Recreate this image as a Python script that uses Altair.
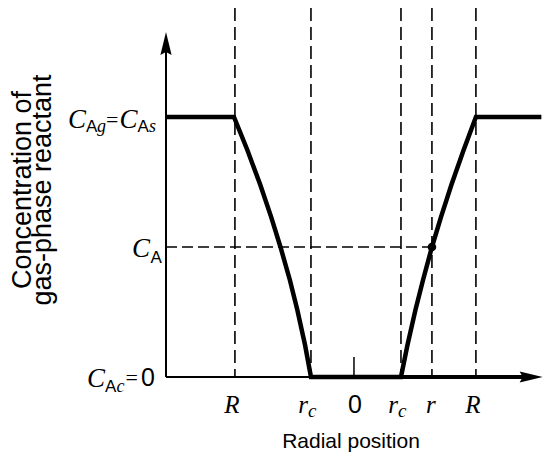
import altair as alt
import pandas as pd

# ---------------- data ----------------
x_domain = [-1.56, 1.577]          # radial position, R = 1
y_domain = [0.0, 1.419]            # concentration, C_Ag = 1

profile_x = [-1.56, -0.996, -0.885, -0.777, -0.687, -0.610, -0.532, -0.470, -0.406, -0.357,
             0.39, 0.444, 0.510, 0.573, 0.647, 0.722, 0.808, 0.910, 1.012, 1.555]
profile_y = [1.0, 1.0, 0.873, 0.738, 0.615, 0.5, 0.373, 0.258, 0.123, 0.0,
             0.0, 0.123, 0.258, 0.373, 0.5, 0.615, 0.738, 0.873, 1.0, 1.0]

guide_x = [-0.988, -0.357, 0.39, 0.647, 1.012]   # R, r_c, r_c, r, R
c_a_level = 0.5
r_pos = 0.647
zero_tick = 0.077

tick_x = [-0.988, -0.357, 0.0, 0.39, 0.647, 1.012]
tick_main = ["R", "r", "0", "r", "r", "R"]
tick_sub = ["", "c", "", "c", "", ""]

y_tick_values = [1.0, 0.5, 0.0]
y_label_parts = [["C", "A", "g", "=", "C", "A", "s"],
                 ["C", "A"],
                 ["C", "A", "c", "=", "0"]]

y_title = ["Concentration of", "gas-phase reactant"]
x_title = "Radial position"

# ---------------- helpers ----------------
xs = alt.Scale(domain=x_domain, nice=False, zero=False)
ys = alt.Scale(domain=y_domain, nice=False, zero=False)
BLACK = "#000000"
SERIF = "Liberation Serif"
SANS = "Liberation Sans"
LEFT = 166  # page x of plot's left edge


def X(f):
    return alt.X(f, type="quantitative", scale=xs, axis=None)


def Y(f):
    return alt.Y(f, type="quantitative", scale=ys, axis=None)


layers = []

# vertical dashed guides
layers.append(
    alt.Chart(pd.DataFrame({"x": guide_x, "y": [0.0] * 5, "y2": [y_domain[1]] * 5}))
    .mark_rule(color=BLACK, strokeWidth=1.6, strokeDash=[13, 6])
    .encode(x=X("x"), y=Y("y2"), y2=alt.Y2("y"))
)
# horizontal dashed guide at C_A
layers.append(
    alt.Chart(pd.DataFrame({"x": [x_domain[0]], "x2": [r_pos], "y": [c_a_level]}))
    .mark_rule(color=BLACK, strokeWidth=1.6, strokeDash=[11, 5])
    .encode(x=X("x"), x2=alt.X2("x2"), y=Y("y"))
)
# axes lines
layers.append(
    alt.Chart(pd.DataFrame({"x": [x_domain[0]], "y": [0.0], "y2": [1.25]}))
    .mark_rule(color=BLACK, strokeWidth=2)
    .encode(x=X("x"), y=Y("y"), y2=alt.Y2("y2"))
)
layers.append(
    alt.Chart(pd.DataFrame({"x": [x_domain[0]], "x2": [1.41], "y": [0.0]}))
    .mark_rule(color=BLACK, strokeWidth=2)
    .encode(x=X("x"), x2=alt.X2("x2"), y=Y("y"))
)
layers.append(
    alt.Chart(pd.DataFrame({"x": [0.39], "x2": [1.41], "y": [0.0]}))
    .mark_rule(color=BLACK, strokeWidth=4)
    .encode(x=X("x"), x2=alt.X2("x2"), y=Y("y"))
)
# tick at 0
layers.append(
    alt.Chart(pd.DataFrame({"x": [0.0], "y": [0.0], "y2": [zero_tick]}))
    .mark_rule(color=BLACK, strokeWidth=1.5)
    .encode(x=X("x"), y=Y("y"), y2=alt.Y2("y2"))
)
# arrow heads
layers.append(
    alt.Chart(pd.DataFrame({"x": [x_domain[0]], "y": [1.25]}))
    .mark_point(shape="M0,-1L0.28,0.15L0,0L-0.28,0.15Z", size=1600, filled=True,
                color=BLACK, opacity=1, strokeWidth=0)
    .encode(x=X("x"), y=Y("y"))
)
layers.append(
    alt.Chart(pd.DataFrame({"x": [1.40], "y": [0.0]}))
    .mark_point(shape="M1,0L-0.15,0.28L0,0L-0.15,-0.28Z", size=1600, filled=True,
                color=BLACK, opacity=1, strokeWidth=0)
    .encode(x=X("x"), y=Y("y"))
)
# concentration profile
layers.append(
    alt.Chart(pd.DataFrame({"x": profile_x, "y": profile_y}))
    .mark_line(color=BLACK, strokeWidth=4.5, strokeJoin="miter")
    .encode(x=X("x"), y=Y("y"))
)
# point at (r, C_A)
layers.append(
    alt.Chart(pd.DataFrame({"x": [r_pos], "y": [c_a_level]}))
    .mark_point(filled=True, size=75, color=BLACK, opacity=1)
    .encode(x=X("x"), y=Y("y"))
)

# ---------------- y labels (pieces with subscripts) ----------------
# per piece: (page x of left edge, dy from line, font, size, italic)
y_piece_style = [
    [(68, 11, SERIF, 27, True), (86, 15, SANS, 17, False), (97, 15, SERIF, 18, True),
     (106, 10, SERIF, 22, False), (119.5, 11, SERIF, 27, True), (137.5, 15, SANS, 17, False),
     (149, 15, SERIF, 18, True)],
    [(132, 10, SERIF, 27, True), (150.5, 16, SANS, 17, False)],
    [(87, 10, SERIF, 27, True), (105, 15, SANS, 17, False), (116.5, 15, SERIF, 18, True),
     (125.5, 8, SERIF, 22, False), (141, 9, SANS, 25, False)],
]
for val, parts, styles in zip(y_tick_values, y_label_parts, y_piece_style):
    for txt, (px, dy, font, size, italic) in zip(parts, styles):
        layers.append(
            alt.Chart(pd.DataFrame({"v": [val], "t": [txt]}))
            .mark_text(align="left", baseline="alphabetic", dy=dy, font=font,
                       fontSize=size, fontStyle="italic" if italic else "normal",
                       color=BLACK)
            .encode(x=alt.value(px - LEFT), y=Y("v"), text="t:N")
        )

# ---------------- x tick labels ----------------
for v, main, sub in zip(tick_x, tick_main, tick_sub):
    if main == "0":
        font, italic, align, dx = SANS, False, "center", 1
    elif sub:
        font, italic, align, dx = SERIF, True, "right", -3
    else:
        font, italic, align, dx = SERIF, True, "center", (-3 if main == "R" else -1)
    layers.append(
        alt.Chart(pd.DataFrame({"v": [v], "t": [main]}))
        .mark_text(align=align, baseline="alphabetic", dx=dx, font=font, fontSize=25,
                   fontStyle="italic" if italic else "normal", color=BLACK)
        .encode(x=X("v"), y=alt.value(405), text="t:N")
    )
    if sub:
        layers.append(
            alt.Chart(pd.DataFrame({"v": [v], "t": [sub]}))
            .mark_text(align="left", baseline="alphabetic", dx=-3, dy=4, font=SERIF,
                       fontSize=19, fontStyle="italic", color=BLACK)
            .encode(x=X("v"), y=alt.value(405), text="t:N")
        )

# ---------------- titles ----------------
for line, px in zip(y_title, [31, 51]):
    layers.append(
        alt.Chart(pd.DataFrame({"t": [line]}))
        .mark_text(angle=270, align="center", baseline="alphabetic", font=SANS,
                   fontSize=27, color=BLACK)
        .encode(x=alt.value(px - LEFT), y=alt.value(182), text="t:N")
    )
layers.append(
    alt.Chart(pd.DataFrame({"t": [x_title]}))
    .mark_text(align="center", baseline="alphabetic", font=SANS, fontSize=21, color=BLACK)
    .encode(x=alt.value(351 - LEFT), y=alt.value(440), text="t:N")
)

chart = (
    alt.layer(*layers)
    .properties(width=378, height=369,
                autosize=alt.AutoSizeParams(type="none"),
                padding={"left": 158, "top": 0, "right": 0, "bottom": 76},
                background="white")
    .configure_view(stroke=None)
)

chart.save("out.html", embed_options={"renderer": "svg", "actions": False})
